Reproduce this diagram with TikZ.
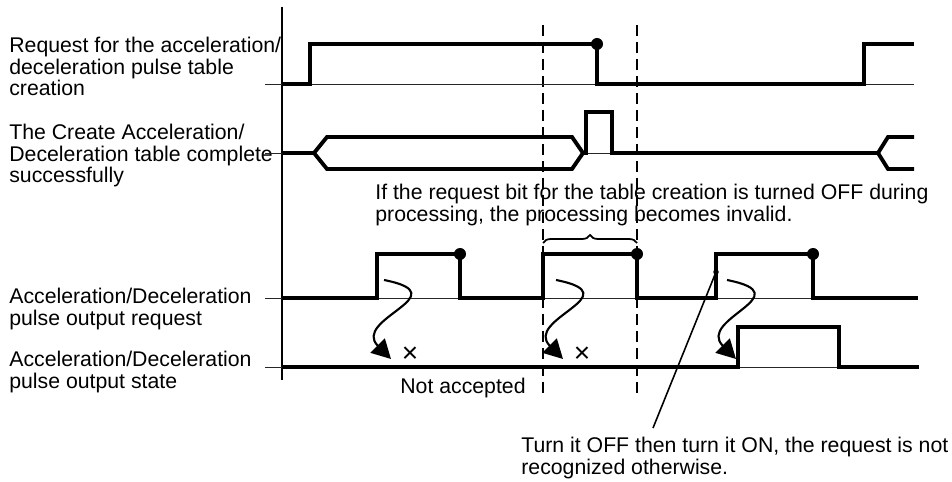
\documentclass[tikz,border=0pt]{standalone}
\usepackage{fontspec}
\setmainfont{Liberation Sans}
\usetikzlibrary{arrows.meta, decorations.pathreplacing}

\begin{document}
\begin{tikzpicture}[x=0.02cm,y=-0.02cm,font=\fontsize{12.1}{12.3}\selectfont,
    lbl/.style={anchor=north west,inner sep=0pt,align=left},
    sig/.style={line width=2.2pt,line join=miter},
    base/.style={line width=0.5pt,black!85},
    guide/.style={line width=0.6pt,dash pattern=on 0.22cm off 0.12cm},
    wavy/.style={line width=1.2pt,-{Triangle[length=0.38cm,width=0.4cm]}},
    pin/.style={circle,fill,inner sep=0pt,minimum size=0.24cm}]
  \useasboundingbox (0,0) rectangle (952,482);
  % signal names
  \node[lbl] (reqlbl) at (9,37)   {Request for the acceleration/\\deceleration pulse table\\creation};
  \node[lbl] (cmplbl) at (9,124)  {The Create Acceleration/\\Deceleration table complete\\successfully};
  \node[lbl] (outreq) at (9,288)  {Acceleration/Deceleration\\pulse output request};
  \node[lbl] (outst)  at (9,351)  {Acceleration/Deceleration\\pulse output state};
  % time axis and guides
  \draw[line width=0.6pt] (282,7) -- (282,380);
  \draw[guide] (543,25) -- (543,397);
  \draw[guide] (637,25) -- (637,397);
  % thin base lines
  \draw[base] (265,84) -- (914,84);
  \draw[base] (265,153) -- (282,153); \draw[base] (586,153) -- (612,153);
  \draw[base] (265,298) -- (918,298);
  \draw[base] (265,367) -- (919,367);
  % request for table creation
  \draw[sig] (282,84) -- (310,84) -- (310,44) -- (597,44) -- (597,84) -- (864,84) -- (864,44) -- (914,44);
  \node[pin] (p1) at (597,44) {};
  % table complete
  \draw[sig] (282,153) -- (314,153);
  \draw[sig] (314,153) -- (327,137) -- (572,137) -- (583,153) -- (572,169) -- (327,169) -- cycle;
  \draw[sig] (583,153) -- (586,153) -- (586,112) -- (612,112) -- (612,153) -- (878,153) -- (888,137) -- (914,137);
  \draw[sig] (878,153) -- (888,169) -- (914,169);
  % pulse output request
  \draw[sig] (282,298) -- (377,298) -- (377,254) -- (460,254) -- (460,298) -- (543,298) -- (543,254) -- (637,254)
    -- (637,298) -- (716,298) -- (716,254) -- (813,254) -- (813,298) -- (918,298);
  \node[pin] (p2) at (460,254) {};
  \node[pin] (p3) at (637,254) {};
  \node[pin] (p4) at (813,254) {};
  % pulse output state
  \draw[sig] (282,367) -- (738,367) -- (738,327) -- (839,327) -- (839,367) -- (919,367);
  % notes
  \node[lbl] (invnote) at (375,184) {If the request bit for the table creation is turned OFF during\\processing, the processing becomes invalid.};
  \coordinate (brL) at (543,243); \coordinate (brR) at (637,243);
  \draw[decorate,decoration={brace,amplitude=0.16cm},line width=1pt] (brL) -- (brR);
  \node[font=\fontsize{16}{16}\selectfont] (rej1) at (410,355) {×};
  \node[font=\fontsize{16}{16}\selectfont] (rej2) at (582,355) {×};
  \node[lbl] (notacc) at (400,378) {Not accepted};
  \node[lbl] (offnote) at (521,437) {Turn it OFF then turn it ON, the request is not\\recognized otherwise.};
  % wavy arrows
  \coordinate (w1a) at (384,280); \coordinate (w1b) at (391,359);
  \coordinate (w2a) at (556,280); \coordinate (w2b) at (563,359);
  \coordinate (w3a) at (727,280); \coordinate (w3b) at (736,359);
  \draw[wavy] (w1a) .. controls +(76,15) and +(-40,-40) .. (w1b);
  \draw[wavy] (w2a) .. controls +(76,15) and +(-40,-40) .. (w2b);
  \draw[wavy] (w3a) .. controls +(76,15) and +(-40,-40) .. (w3b);
  % leader
  \node[circle,fill,inner sep=0pt,minimum size=0.11cm] (ldot) at (716,272) {};
  \coordinate (lend) at (653,428);
  \draw[line width=0.9pt] (ldot.center) -- (lend);
\end{tikzpicture}
\end{document}
